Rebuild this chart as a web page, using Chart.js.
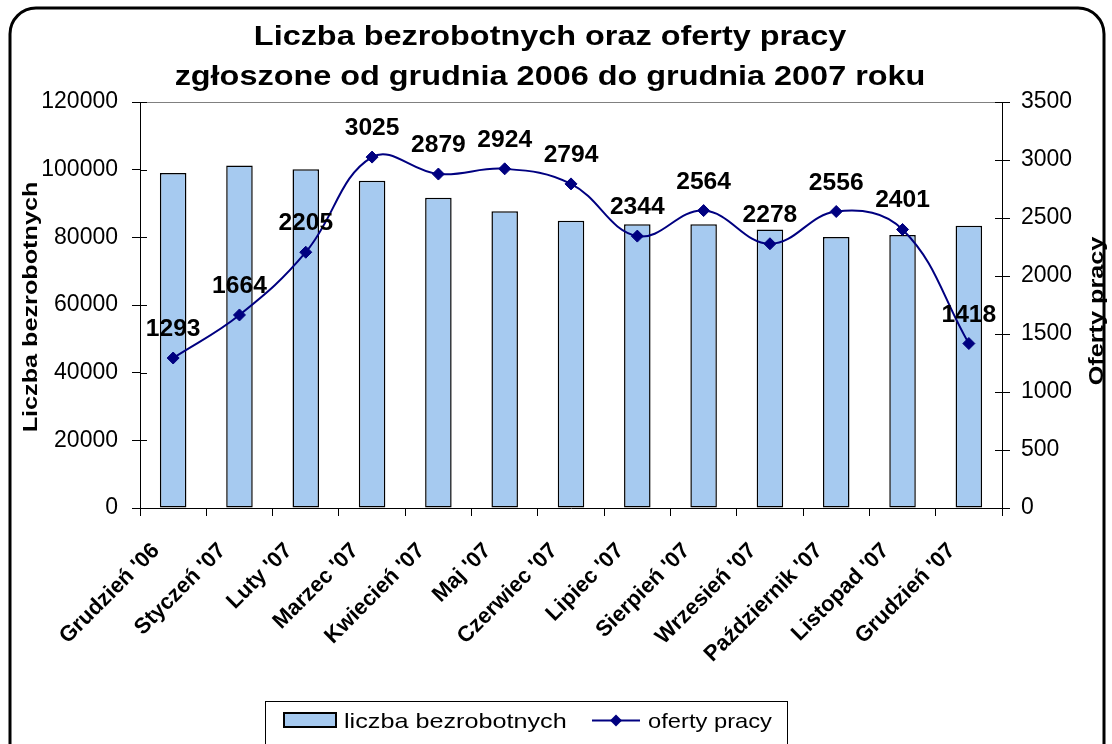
<!DOCTYPE html>
<html>
<head>
<meta charset="utf-8">
<script src="https://cdn.jsdelivr.net/npm/chart.js@4.4.1/dist/chart.umd.min.js"></script>
<style>
  html, body { margin: 0; padding: 0; background: #ffffff; }
  #wrap { width: 1112px; height: 744px; position: relative; overflow: hidden; }
  canvas { display: block; }
</style>
</head>
<body>
<div id="wrap"><canvas id="c" width="1112" height="744"></canvas></div>
<script>
// ---------- data ----------
const categories = ["Grudzień '06", "Styczeń '07", "Luty '07", "Marzec '07", "Kwiecień '07", "Maj '07",
  "Czerwiec '07", "Lipiec '07", "Sierpień '07", "Wrzesień '07", "Październik '07", "Listopad '07", "Grudzień '07"];
const unemployed = [99000, 101200, 100100, 96700, 91700, 87700, 84900, 83900, 83900, 82300, 80100, 80700, 83400];
const jobOffers = [1293, 1664, 2205, 3025, 2879, 2924, 2794, 2344, 2564, 2278, 2556, 2401, 1418];
const leftTicks = [0, 20000, 40000, 60000, 80000, 100000, 120000];
const rightTicks = [0, 500, 1000, 1500, 2000, 2500, 3000, 3500];
const titleLines = ["Liczba bezrobotnych oraz oferty pracy", "zgłoszone od grudnia 2006 do grudnia 2007 roku"];
const leftAxisTitle = "Liczba bezrobotnych";
const rightAxisTitle = "Oferty pracy";
const seriesNames = ["liczba bezrobotnych", "oferty pracy"];

// ---------- styles ----------
const FONT = '"Liberation Sans", Arial, Helvetica, sans-serif';
const BAR_FILL = '#a6caf0';
const LINE_COLOR = '#000080';

function stretchedText(ctx, text, x, y, size, bold, sx, rot, align, baseline) {
  ctx.save();
  ctx.translate(x, y);
  if (rot) ctx.rotate(rot);
  ctx.scale(sx, 1);
  ctx.font = (bold ? 'bold ' : '') + size + 'px ' + FONT;
  ctx.textAlign = align || 'center';
  ctx.textBaseline = baseline || 'alphabetic';
  ctx.fillStyle = '#000';
  ctx.fillText(text, 0, 0);
  ctx.restore();
}

const framePlugin = {
  id: 'frame',
  beforeDraw(chart) {
    const ctx = chart.ctx;
    const a = chart.chartArea;
    ctx.save();
    ctx.fillStyle = '#fff';
    ctx.fillRect(0, 0, chart.width, chart.height);
    // rounded outer frame
    const l = 10, t = 8, r = 1104, rad = 26;
    ctx.strokeStyle = '#000';
    ctx.lineWidth = 3;
    ctx.beginPath();
    ctx.moveTo(l, 790);
    ctx.lineTo(l, t + rad);
    ctx.arcTo(l, t, l + rad, t, rad);
    ctx.lineTo(r - rad, t);
    ctx.arcTo(r, t, r, t + rad, rad);
    ctx.lineTo(r, 790);
    ctx.stroke();
    // grey top border of plot area
    ctx.strokeStyle = '#808080';
    ctx.lineWidth = 1;
    ctx.beginPath();
    ctx.moveTo(a.left, a.top + 0.5);
    ctx.lineTo(a.right, a.top + 0.5);
    ctx.stroke();
    ctx.restore();
  },
  afterDraw(chart) {
    const ctx = chart.ctx;
    const a = chart.chartArea;
    // inner parts of the value-axis tick marks
    ctx.save();
    ctx.strokeStyle = '#000';
    ctx.lineWidth = 1;
    const ys = chart.scales.y, ys1 = chart.scales.y1;
    ys.ticks.forEach((tk) => {
      const py = Math.round(ys.getPixelForValue(tk.value)) + 0.5;
      ctx.beginPath(); ctx.moveTo(a.left, py); ctx.lineTo(a.left + 7, py); ctx.stroke();
    });
    ys1.ticks.forEach((tk) => {
      const py = Math.round(ys1.getPixelForValue(tk.value)) + 0.5;
      ctx.beginPath(); ctx.moveTo(a.right - 7, py); ctx.lineTo(a.right, py); ctx.stroke();
    });
    ctx.restore();

    // chart title (two lines)
    stretchedText(ctx, titleLines[0], 550, 45, 27, true, 1.2);
    stretchedText(ctx, titleLines[1], 550, 85, 27, true, 1.2);

    // axis titles
    const midY = (a.top + a.bottom) / 2;
    stretchedText(ctx, leftAxisTitle, 31, midY + 2, 21, true, 1.2, -Math.PI / 2, 'center', 'middle');
    stretchedText(ctx, rightAxisTitle, 1097, midY + 6, 21, true, 1.2, -Math.PI / 2, 'center', 'middle');

    // legend
    const ds = chart.data.datasets;
    ctx.save();
    ctx.strokeStyle = '#000';
    ctx.lineWidth = 1;
    ctx.strokeRect(265.5, 701.5, 522, 70);
    // bar swatch
    ctx.fillStyle = BAR_FILL;
    ctx.fillRect(284, 713, 52, 14);
    ctx.lineWidth = 2;
    ctx.strokeRect(284, 713, 52, 14);
    // line swatch
    ctx.strokeStyle = LINE_COLOR;
    ctx.lineWidth = 2;
    ctx.beginPath(); ctx.moveTo(592, 720.5); ctx.lineTo(640, 720.5); ctx.stroke();
    ctx.fillStyle = LINE_COLOR;
    ctx.beginPath();
    ctx.moveTo(616, 714.5); ctx.lineTo(622, 720.5); ctx.lineTo(616, 726.5); ctx.lineTo(610, 720.5);
    ctx.closePath(); ctx.fill();
    ctx.restore();
    stretchedText(ctx, ds[0].label, 344, 728, 21, false, 1.2, 0, 'left');
    stretchedText(ctx, ds[1].label, 648, 728, 21, false, 1.13, 0, 'left');
  }
};

const valueLabelPlugin = {
  id: 'valueLabels',
  afterDatasetsDraw(chart) {
    const ctx = chart.ctx;
    const meta = chart.getDatasetMeta(1);
    const data = chart.data.datasets[1].data;
    meta.data.forEach((el, i) => {
      stretchedText(ctx, String(data[i]), el.x, el.y - 22, 23, true, 1.07);
    });
  }
};

const chart = new Chart(document.getElementById('c'), {
  data: {
    labels: categories,
    datasets: [
      {
        type: 'bar',
        label: seriesNames[0],
        data: unemployed,
        yAxisID: 'y',
        backgroundColor: BAR_FILL,
        borderColor: '#000',
        borderWidth: 1.5,
        borderSkipped: false,
        categoryPercentage: 1.0,
        barPercentage: 0.4,
        order: 1
      },
      {
        type: 'line',
        label: seriesNames[1],
        data: jobOffers,
        yAxisID: 'y1',
        borderColor: LINE_COLOR,
        borderWidth: 2,
        tension: 0.4,
        fill: false,
        pointStyle: 'rectRot',
        pointRadius: 6,
        pointBackgroundColor: LINE_COLOR,
        pointBorderColor: LINE_COLOR,
        pointBorderWidth: 1,
        order: 0
      }
    ]
  },
  options: {
    responsive: false,
    animation: false,
    events: [],
    devicePixelRatio: 1,
    layout: { padding: { top: 102, left: 0, right: 0, bottom: 0 } },
    plugins: {
      legend: { display: false },
      title: { display: false },
      tooltip: { enabled: false }
    },
    scales: {
      x: {
        type: 'category',
        offset: true,
        grid: { offset: true, drawOnChartArea: false, tickLength: 8, color: '#000', tickColor: '#000', lineWidth: 1 },
        border: { display: true, color: '#000', width: 1 },
        ticks: {
          autoSkip: false,
          maxRotation: 45,
          minRotation: 45,
          labelOffset: -17,
          padding: 22,
          color: '#000',
          font: { family: FONT, size: 22, weight: 'bold' }
        },
        afterFit(s) { s.height = 236; }
      },
      y: {
        position: 'left',
        min: 0,
        max: 120000,
        afterBuildTicks(s) { s.ticks = leftTicks.map(v => ({ value: v })); },
        grid: { drawOnChartArea: false, tickLength: 8, color: '#000', tickColor: '#000' },
        border: { display: true, color: '#000', width: 1 },
        ticks: { padding: 14, color: '#000', font: { family: FONT, size: 23 }, callback: (v) => String(v) },
        afterFit(s) { s.width = 140; }
      },
      y1: {
        position: 'right',
        min: 0,
        max: 3500,
        afterBuildTicks(s) { s.ticks = rightTicks.map(v => ({ value: v })); },
        grid: { drawOnChartArea: false, tickLength: 8, color: '#000', tickColor: '#000' },
        border: { display: true, color: '#000', width: 1 },
        ticks: { padding: 11, color: '#000', font: { family: FONT, size: 23 }, callback: (v) => String(v) },
        afterFit(s) { s.width = 110; }
      }
    }
  },
  plugins: [framePlugin, valueLabelPlugin]
});
</script>
</body>
</html>
